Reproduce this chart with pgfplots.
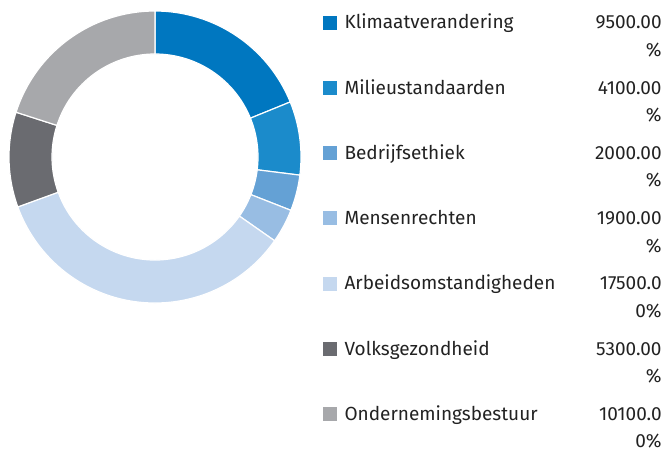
\documentclass[border=0pt]{standalone}
\usepackage{fontspec}
\setmainfont{Fira Sans}
\usepackage{pgfplots}
\pgfplotsset{compat=1.18}
\definecolor{c1}{HTML}{0077C0}
\definecolor{c2}{HTML}{1B8BCB}
\definecolor{c3}{HTML}{64A1D5}
\definecolor{c4}{HTML}{98BDE3}
\definecolor{c5}{HTML}{C5D8EF}
\definecolor{c6}{HTML}{6A6B70}
\definecolor{c7}{HTML}{A7A8AB}
\definecolor{txt}{HTML}{222222}
\newcommand{\entry}[3]{\parbox[t]{317pt}{\strut #1\hfill\parbox[t]{80pt}{\raggedleft\strut #2\\\strut #3}}}
\def\vals{9500/c1,4100/c2,2000/c3,1900/c4,17500/c5,5300/c6,10100/c7}
\def\total{50400}
\begin{document}
\begin{tikzpicture}
\useasboundingbox (0,0) rectangle (664pt,450pt);
\begin{axis}[at={(9pt,147pt)}, anchor=south west, scale only axis,
  width=292pt, height=292pt, xmin=-1, xmax=1, ymin=-1, ymax=1,
  hide axis, clip=false,
  legend style={draw=none, fill=none, at={(1.0753,1.0123)}, anchor=north west,
    inner sep=0pt, cells={anchor=base west, inner sep=0pt}, row sep=40.5pt,
    /tikz/every odd column/.style={column sep=6pt},
    font=\fontsize{19}{27.5}\selectfont, text=txt},
  legend image code/.code={\fill[#1] (0pt,0pt) rectangle (13pt,13pt);},
]
\gdef\cum{0}
\foreach \v/\c in \vals {
  \edef\a{\fpeval{round(90-\cum/\total*360,4)}}
  \edef\b{\fpeval{round(90-(\cum+\v)/\total*360,4)}}
  \edef\xa{\fpeval{round(cosd(\a),5)}}
  \edef\ya{\fpeval{round(sind(\a),5)}}
  \edef\xi{\fpeval{round(0.7055*cosd(\b),5)}}
  \edef\yi{\fpeval{round(0.7055*sind(\b),5)}}
  \edef\temp{\noexpand\fill[\c, draw=white, line width=1.2pt] (axis cs:\xa,\ya) arc[start angle=\a, end angle=\b, radius=146pt] -- (axis cs:\xi,\yi) arc[start angle=\b, end angle=\a, radius=103pt] -- cycle;}
  \temp
  \xdef\cum{\fpeval{\cum+\v}}
}
\addlegendimage{c1}\addlegendentry{\entry{Klimaatverandering}{9500.00}{\%}}
\addlegendimage{c2}\addlegendentry{\entry{Milieustandaarden}{4100.00}{\%}}
\addlegendimage{c3}\addlegendentry{\entry{Bedrijfsethiek}{2000.00}{\%}}
\addlegendimage{c4}\addlegendentry{\entry{Mensenrechten}{1900.00}{\%}}
\addlegendimage{c5}\addlegendentry{\entry{Arbeidsomstandigheden}{17500.0}{0\%}}
\addlegendimage{c6}\addlegendentry{\entry{Volksgezondheid}{5300.00}{\%}}
\addlegendimage{c7}\addlegendentry{\entry{Ondernemingsbestuur}{10100.0}{0\%}}
\end{axis}
\end{tikzpicture}
\end{document}
